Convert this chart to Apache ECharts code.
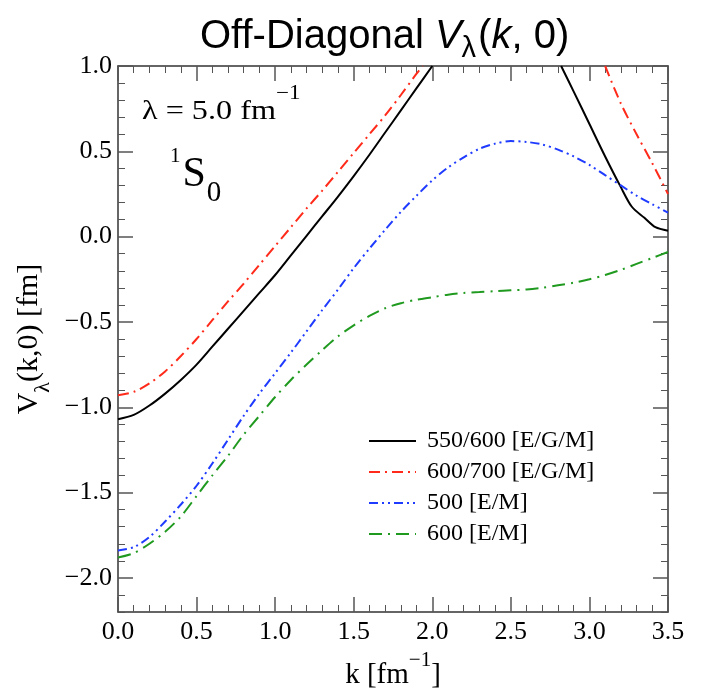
<!DOCTYPE html>
<html>
<head>
<meta charset="utf-8">
<script src="https://cdn.jsdelivr.net/npm/echarts@6/dist/echarts.min.js"></script>
<style>html,body{margin:0;padding:0;background:#fff}#c{width:702px;height:695px}</style>
</head>
<body>
<div id="c"></div>
<script>
// ---- data ----
const seriesNames = ['550/600 [E/G/M]', '600/700 [E/G/M]', '500 [E/M]', '600 [E/M]'];

const kBlack = [0.0,0.1,0.2,0.3,0.4,0.5,0.6,0.7,0.8,0.9,1.0,1.1,1.2,1.3,1.4,1.5,1.6,1.7,1.8,1.9,2.0,null,2.82,2.9,3.0,3.1,3.2,3.27,3.35,3.42,3.5];
const vBlack = [-1.07,-1.045,-0.99,-0.92,-0.84,-0.75,-0.645,-0.54,-0.435,-0.33,-0.225,-0.11,0.005,0.12,0.235,0.355,0.48,0.61,0.74,0.87,1.0,null,1.0,0.85,0.66,0.47,0.29,0.175,0.11,0.055,0.035];

const kRed = [0.0,0.1,0.2,0.3,0.4,0.5,0.6,0.7,0.8,0.9,1.0,1.1,1.2,1.3,1.4,1.5,1.6,1.7,1.8,1.9,1.94,null,3.1,3.2,3.3,3.4,3.5];
const vRed = [-0.93,-0.91,-0.86,-0.79,-0.70,-0.60,-0.49,-0.38,-0.275,-0.165,-0.055,0.055,0.165,0.27,0.38,0.49,0.60,0.71,0.83,0.955,1.0,null,1.0,0.78,0.60,0.43,0.25];

const kBlue = [0.0,0.1,0.2,0.3,0.4,0.5,0.6,0.7,0.8,0.9,1.0,1.1,1.2,1.3,1.4,1.5,1.6,1.7,1.8,1.9,2.0,2.1,2.2,2.3,2.4,2.5,2.6,2.7,2.8,2.9,3.0,3.1,3.2,3.3,3.4,3.5];
const vBlue = [-1.84,-1.82,-1.76,-1.67,-1.57,-1.46,-1.33,-1.19,-1.05,-0.92,-0.80,-0.68,-0.555,-0.43,-0.31,-0.185,-0.07,0.04,0.145,0.24,0.33,0.405,0.465,0.515,0.545,0.56,0.555,0.54,0.51,0.47,0.42,0.36,0.30,0.24,0.19,0.14];

const kGreen = [0.0,0.1,0.2,0.3,0.4,0.5,0.6,0.7,0.8,0.9,1.0,1.1,1.2,1.3,1.4,1.5,1.6,1.7,1.8,1.9,2.0,2.1,2.2,2.3,2.4,2.5,2.6,2.7,2.8,2.9,3.0,3.1,3.2,3.3,3.4,3.5];
const vGreen = [-1.88,-1.855,-1.80,-1.73,-1.64,-1.52,-1.40,-1.285,-1.16,-1.05,-0.94,-0.84,-0.75,-0.665,-0.585,-0.52,-0.465,-0.42,-0.39,-0.37,-0.355,-0.34,-0.33,-0.325,-0.32,-0.315,-0.31,-0.30,-0.285,-0.27,-0.25,-0.225,-0.195,-0.16,-0.125,-0.09];

const xTicks = [0.0,0.5,1.0,1.5,2.0,2.5,3.0,3.5];
const yTicks = [-2.0,-1.5,-1.0,-0.5,0.0,0.5,1.0];
const xMin = 0, xMax = 3.5, xStep = 0.5;
const yMin = -2.2, yMax = 1.0;

// ---- build ----
function pairs(ks, vs){ return ks.map((k,i)=> k===null ? [null,null] : [k, vs[i]]); }
const yMinor = [];
for (let i = Math.round(yMin*10); i <= Math.round(yMax*10); i++) { if (i % 5 !== 0) yMinor.push(i/10); }

const serif = '"Liberation Serif", "DejaVu Serif", serif';
const sans = '"Liberation Sans", Arial, sans-serif';
const colors = ['#000000', '#ff2a1a', '#1f3bff', '#1f9a1f'];
const dashes = ['solid', [11,5,2,5], [9,4,2,4,2,4], [13,6,2,6]];
const datas = [pairs(kBlack,vBlack), pairs(kRed,vRed), pairs(kBlue,vBlue), pairs(kGreen,vGreen)];

const chart = echarts.init(document.getElementById('c'));

const tickStyle = {color:'#555', width:1.5};
const axisLine = {show:true, onZero:false, lineStyle:{color:'#333', width:1.5}};
const noLine = {show:false, onZero:false};

function xAx(pos, labels){
  return {
    type:'value', position:pos, min:xMin, max:xMax, interval:xStep,
    axisLine:axisLine,
    axisTick:{show:true, inside:true, length:15, lineStyle:tickStyle},
    minorTick:{show:true, splitNumber:5, length:7, lineStyle:{color:'#555', width:1}},
    splitLine:{show:false}, minorSplitLine:{show:false},
    axisLabel: labels ? {fontFamily:serif, fontSize:26, color:'#000', margin:7, formatter:v=>v.toFixed(1)} : {show:false}
  };
}
function yAx(pos, major, labels){
  return {
    type:'value', position:pos, min:yMin, max:yMax,
    axisLine: major ? axisLine : noLine,
    axisTick:{show:true, inside:true, length: major ? 15 : 7, customValues: major ? yTicks : yMinor,
              lineStyle: major ? tickStyle : {color:'#555', width:1}},
    minorTick:{show:false}, splitLine:{show:false},
    axisLabel: labels ? {fontFamily:serif, fontSize:26, color:'#000', margin:6, customValues:yTicks,
                         formatter:v=>v.toFixed(1).replace('-','−')} : {show:false}
  };
}

const yLeft = yAx('left', true, true);
yLeft.name = '{n|V}{s|λ}{n|(k,0) [fm]}';
yLeft.nameLocation = 'middle'; yLeft.nameGap = 64; yLeft.nameRotate = 90;
yLeft.nameTextStyle = {rich:{
  n:{fontFamily:serif, fontSize:30, color:'#000', lineHeight:40, verticalAlign:'top'},
  s:{fontFamily:serif, fontSize:22, color:'#000', lineHeight:40, verticalAlign:'bottom'}
}};

const xBottom = xAx('bottom', true);
xBottom.name = '{n|k [fm}{s|−1}{n|]}';
xBottom.nameLocation = 'middle'; xBottom.nameGap = 38;
xBottom.nameTextStyle = {rich:{
  n:{fontFamily:serif, fontSize:29, color:'#000', lineHeight:40, verticalAlign:'bottom'},
  s:{fontFamily:serif, fontSize:21, color:'#000', lineHeight:40, verticalAlign:'top'}
}};

const option = {
  animation:false,
  backgroundColor:'#fff',
  title:{
    text:'{a|Off-Diagonal }{i|V}{s|λ}{a|(}{i|k}{a|, 0)}',
    left:195, top:6,
    textStyle:{
      fontWeight:'normal',
      rich:{
        a:{fontFamily:sans, fontSize:40, fontWeight:'normal', color:'#000', lineHeight:52, verticalAlign:'middle'},
        i:{fontFamily:sans, fontSize:40, fontWeight:'normal', fontStyle:'italic', color:'#000', lineHeight:52, verticalAlign:'middle'},
        s:{fontFamily:sans, fontSize:29, fontWeight:'normal', color:'#000', lineHeight:52, verticalAlign:'bottom', padding:[0,2,0,0]}
      }
    }
  },
  grid:{left:118, right:34, top:66, bottom:80, containLabel:false},
  legend:{
    orient:'vertical', left:363, top:424,
    itemWidth:47, itemHeight:14, itemGap:7,
    data:seriesNames,
    textStyle:{fontFamily:serif, fontSize:24, color:'#000', padding:[0,0,0,6]},
    itemStyle:{opacity:0}
  },
  xAxis:[xBottom, xAx('top', false)],
  yAxis:[yLeft, yAx('left', false, false), yAx('right', true, false), yAx('right', false, false)],
  graphic:[
    {type:'text', x:142, y:84, scaleX:1.15, style:{
      text:'{m|λ = 5.0 fm}{p|−1}',
      rich:{
        m:{fontFamily:serif, fontSize:28, fill:'#000', lineHeight:42, verticalAlign:'bottom'},
        p:{fontFamily:serif, fontSize:20, fill:'#000', lineHeight:42, verticalAlign:'top'}
      }}},
    {type:'text', x:170, y:140, style:{
      text:'{p|1}{m|S}{b|0}',
      rich:{
        p:{fontFamily:serif, fontSize:21, fill:'#000', lineHeight:70, verticalAlign:'top', padding:[6,2,0,0]},
        m:{fontFamily:serif, fontSize:42, fill:'#000', lineHeight:70, verticalAlign:'middle'},
        b:{fontFamily:serif, fontSize:29, fill:'#000', lineHeight:70, verticalAlign:'bottom', padding:[0,0,2,1]}
      }}}
  ],
  series: seriesNames.map((n,i)=>({
    name:n, type:'line', data:datas[i], showSymbol:false, symbol:'none',
    xAxisIndex:0, yAxisIndex:0,
    smooth:0.3, connectNulls:false, clip:true,
    lineStyle:{color:colors[i], width:2, type:dashes[i]},
    itemStyle:{color:colors[i]}
  }))
};
chart.setOption(option);
</script>
</body>
</html>
